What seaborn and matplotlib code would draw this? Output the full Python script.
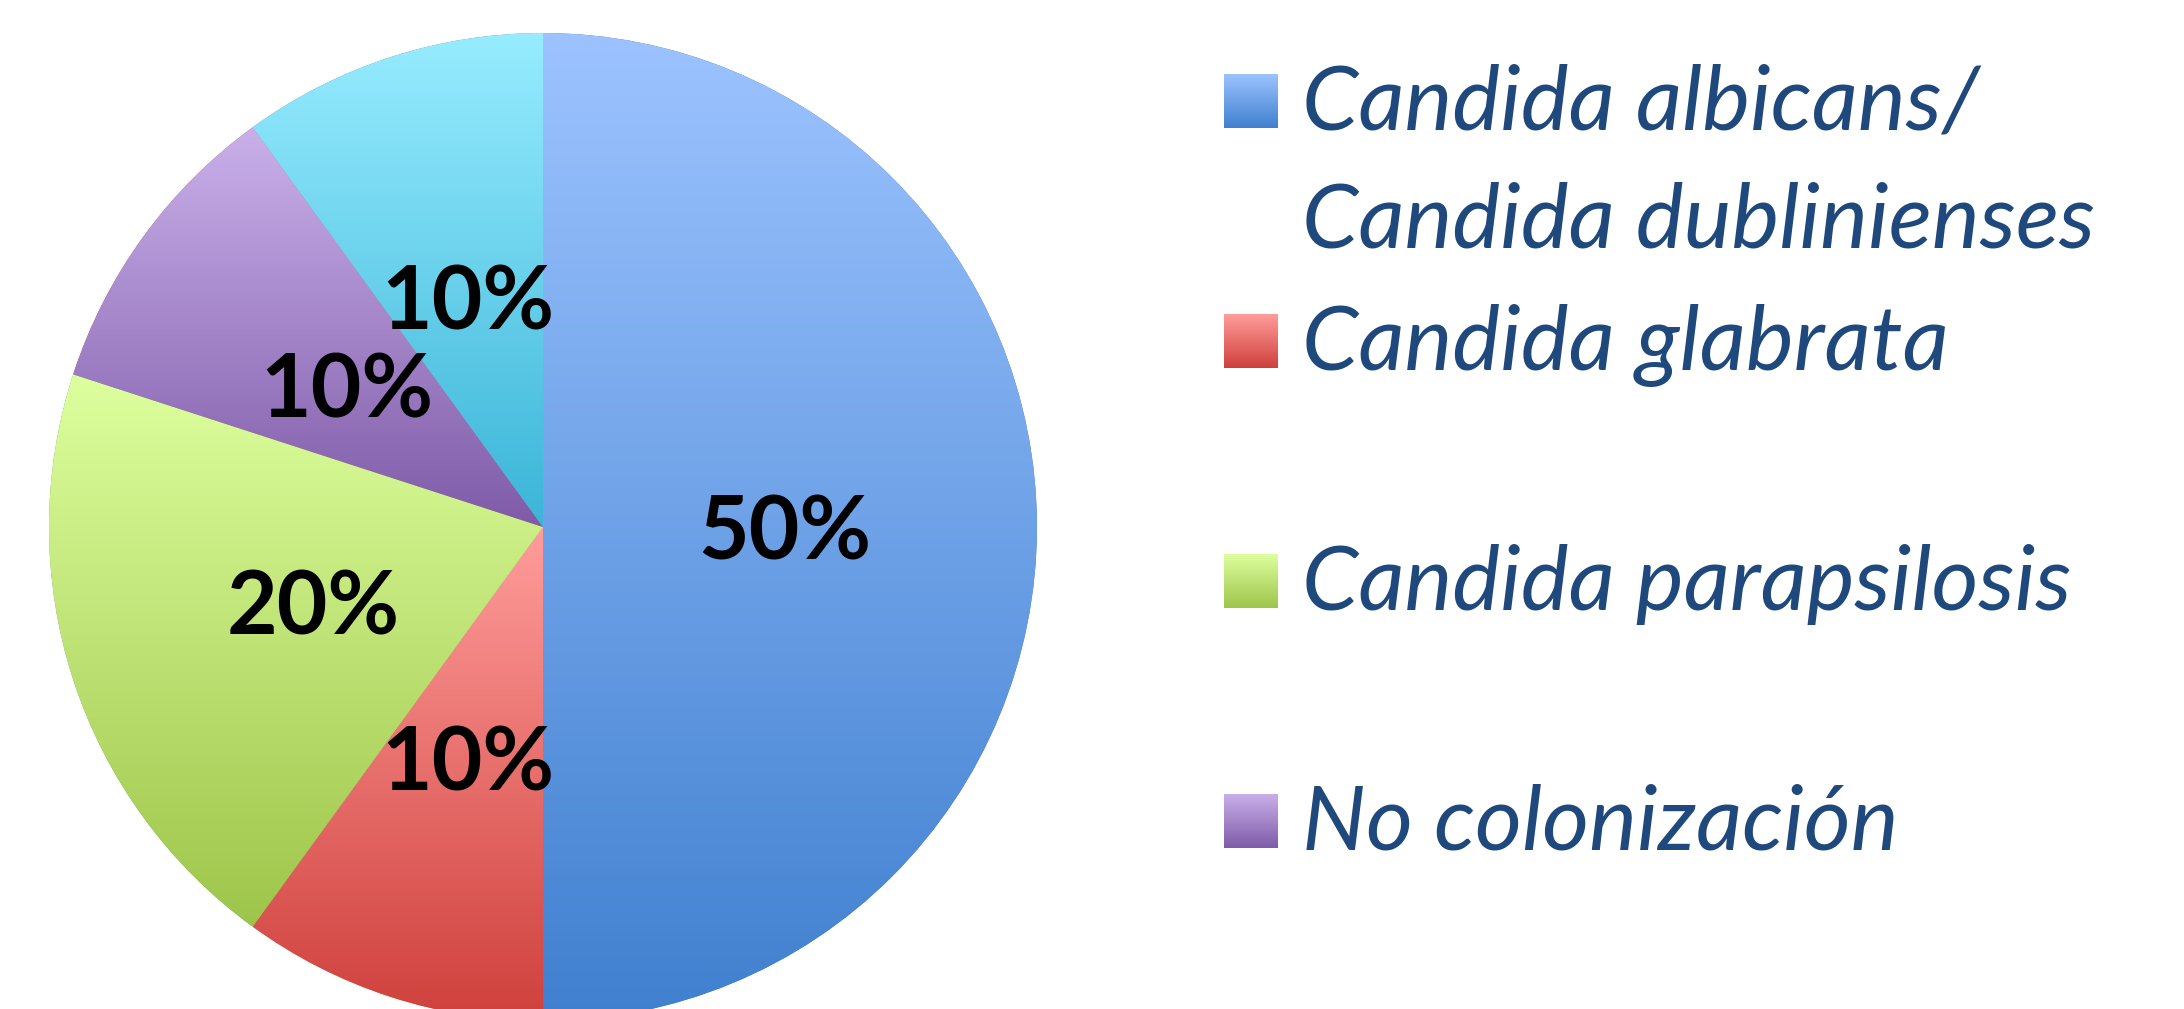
import numpy as np
import matplotlib
matplotlib.use("Agg")
import matplotlib.pyplot as plt
import seaborn as sns

# data (clockwise from 12 o'clock)
values = [50, 10, 20, 10, 10]
legend_labels = [
    "Candida albicans/\nCandida dublinienses",
    "Candida glabrata",
    "Candida parapsilosis",
    "No colonización",
]
top_colors = ["#9CC3FF", "#FF9D9B", "#DDFF9E", "#C9B0EA", "#97ECFF"]
bottom_colors = ["#4080CF", "#CF403C", "#9EC54A", "#7F5BA8", "#3BB5D8"]
text_color = "#1F497D"

sns.set_theme(style="white")
plt.rcParams["font.family"] = ["Lato", "DejaVu Sans"]

W, H = 2184, 1009
fig = plt.figure(figsize=(W / 100, H / 100), dpi=100)
fig.patch.set_facecolor("white")

# pie: centre ~ (543, 527) px, radius ~ 494 px
ax = fig.add_axes([49 / W, -12 / H, 988 / W, 988 / H])
wedges, _, pcts = ax.pie(
    values,
    startangle=90,
    counterclock=False,
    radius=1,
    autopct=lambda p: f"{p:.0f}%",
    pctdistance=0.49,
    wedgeprops=dict(linewidth=0),
    textprops=dict(fontsize=63, fontweight="bold", color="black",
                   verticalalignment="center_baseline"),
)

gradient = np.linspace(0, 1, 256).reshape(-1, 1)

# vertical gradient inside every slice (light top -> dark bottom)
for w, top, bot in zip(wedges, top_colors, bottom_colors):
    bb = w.get_path().get_extents()
    cmap = sns.blend_palette([top, bot], as_cmap=True)
    im = ax.imshow(gradient, cmap=cmap, extent=(bb.x0, bb.x1, bb.y0, bb.y1),
                   origin="upper", aspect="auto", interpolation="bilinear", zorder=2)
    im.set_clip_path(w)

for t in pcts:
    t.set_zorder(5)

ax.set_xlim(-1, 1)
ax.set_ylim(-1, 1)
ax.set_aspect("equal")
ax.axis("off")

# legend drawn by hand to keep the Office-like row spacing
for i, (label, top, bot) in enumerate(zip(legend_labels, top_colors, bottom_colors)):
    cy = 101 + 240 * i
    sax = fig.add_axes([1224 / W, 1 - (cy + 27) / H, 54 / W, 54 / H])
    sax.imshow(gradient, cmap=sns.blend_palette([top, bot], as_cmap=True),
               aspect="auto", interpolation="bilinear")
    sax.axis("off")
    for j, line in enumerate(label.split("\n")):
        fig.text(1302 / W, 1 - (cy + 29 + 117 * j) / H, line, fontsize=65,
                 style="italic", color=text_color, ha="left", va="baseline")

fig.savefig("out.png", dpi=100, facecolor="white")
